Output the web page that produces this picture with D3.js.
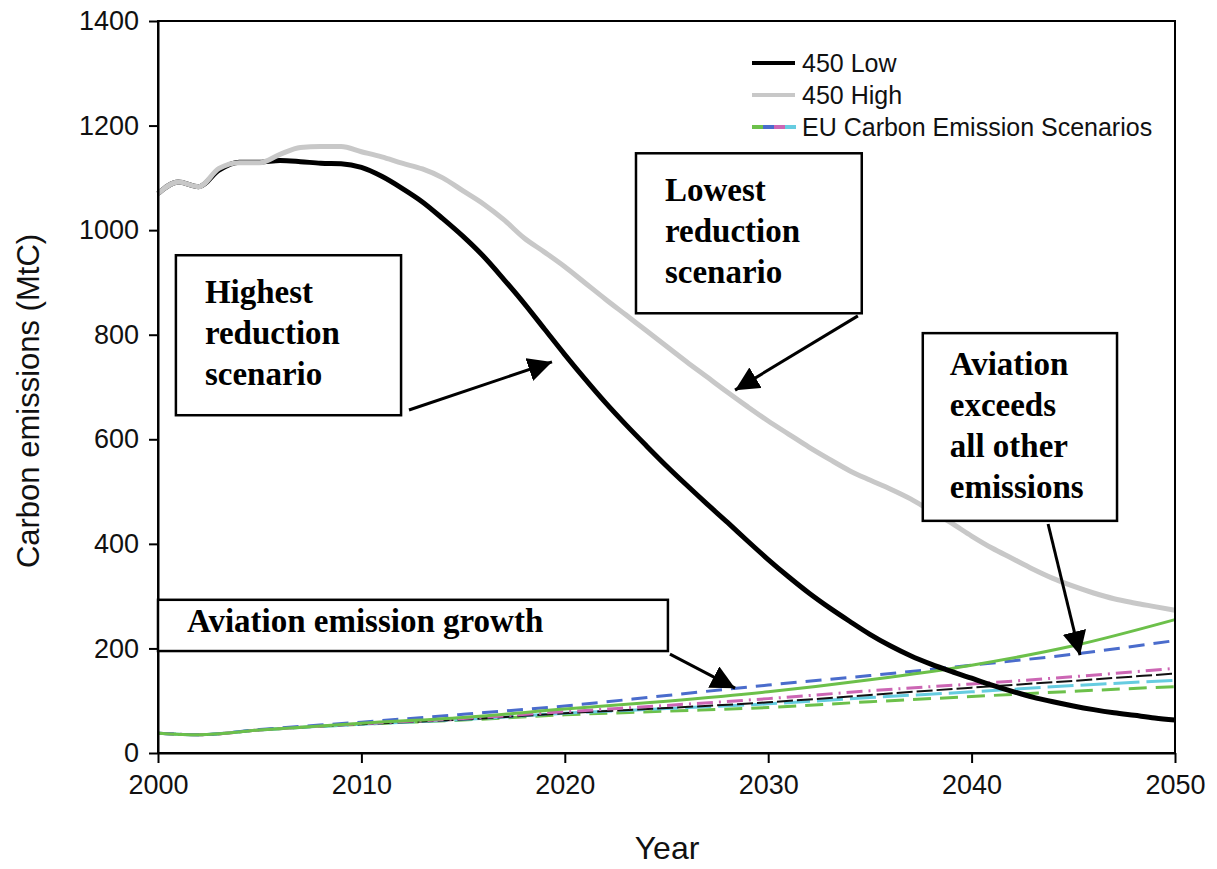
<!DOCTYPE html>
<html>
<head>
<meta charset="utf-8">
<script src="https://cdn.jsdelivr.net/npm/d3@7"></script>
<style>
  html, body { margin: 0; padding: 0; background: #fff; }
  svg { display: block; }
</style>
</head>
<body>
<svg id="chart" width="1217" height="869"></svg>
<script>
// Annual years for the two 450 ppm stabilisation pathways
const years = d3.range(2000, 2051);

// 450 Low: highest reduction pathway (MtC)
const low450 = [1070, 1092, 1083, 1115, 1130, 1130, 1133, 1131, 1128, 1127,
  1120, 1103, 1080, 1054, 1022, 988, 950, 906, 860, 811,
  762, 715, 670, 628, 588, 549, 512, 476, 441, 405,
  370, 337, 306, 278, 252, 227, 205, 186, 170, 156,
  143, 130, 118, 107, 98, 90, 83, 77, 72, 67, 63];

// 450 High: lowest reduction pathway (MtC)
const high450 = [1070, 1092, 1083, 1118, 1129, 1129, 1145, 1158, 1160, 1160,
  1150, 1140, 1128, 1117, 1100, 1075, 1050, 1020, 985, 958,
  930, 899, 868, 838, 808, 778, 748, 719, 690, 662,
  635, 610, 585, 562, 540, 522, 505, 486, 463, 440,
  415, 392, 372, 352, 334, 319, 306, 295, 287, 280, 273];

// Aviation emission scenarios (MtC)
const scenarioYears = [2000, 2002, 2005, 2010, 2015, 2020, 2025, 2030, 2035, 2040, 2045, 2050];
const aviationA = [38, 35, 44, 57, 68, 84, 99, 117, 140, 168, 205, 255];
const aviationB = [38, 35, 45, 59, 74, 90, 110, 130, 148, 168, 189, 215];
const aviationC = [38, 35, 44, 56, 66, 79, 91, 104, 119, 132, 146, 162];
const aviationD = [38, 35, 44, 55, 64, 76, 86, 97, 111, 125, 138, 152];
const aviationE = [38, 35, 44, 55, 64, 76, 85, 94, 106, 117, 129, 139];
const aviationF = [38, 35, 44, 55, 63, 73, 80, 87, 98, 108, 118, 127];

// Axis ticks
const xTicks = [2000, 2010, 2020, 2030, 2040, 2050];
const yTicks = [0, 200, 400, 600, 800, 1000, 1200, 1400];

// Legend entries
const legendLabels = ["450 Low", "450 High", "EU Carbon Emission Scenarios"];

// Callout texts
const calloutHighest = ["Highest", "reduction", "scenario"];
const calloutLowest = ["Lowest", "reduction", "scenario"];
const calloutExceeds = ["Aviation", "exceeds", "all other", "emissions"];
const calloutGrowth = ["Aviation emission growth"];

const svg = d3.select("#chart");
const margin = { left: 158, top: 21, right: 1217 - 1175, bottom: 869 - 753 };
const W = 1217, H = 869;

const x = d3.scaleLinear().domain([2000, 2050]).range([margin.left, W - margin.right]);
const y = d3.scaleLinear().domain([0, 1400]).range([H - margin.bottom, margin.top]);

const sansFont = "'Liberation Sans', Arial, sans-serif";
const serifFont = "'Liberation Serif', 'Times New Roman', serif";

// arrowhead marker
svg.append("defs").append("marker")
  .attr("id", "head")
  .attr("viewBox", "0 0 10 10")
  .attr("refX", 10).attr("refY", 5)
  .attr("markerWidth", 8).attr("markerHeight", 8)
  .attr("markerUnits", "strokeWidth")
  .attr("orient", "auto")
  .append("path").attr("d", "M0,0 L10,5 L0,10 Z").attr("fill", "#000");

// Aviation scenario lines
const scenarioStyles = [
  { data: aviationF, color: "#6cc04a", width: 3, dash: "18,9" },
  { data: aviationE, color: "#66cce0", width: 3, dash: "26,7" },
  { data: aviationD, color: "#111", width: 2, dash: "16,4" },
  { data: aviationC, color: "#cc66b4", width: 3, dash: "16,6,2,6" },
  { data: aviationB, color: "#4a6ccc", width: 3, dash: "16,9" },
  { data: aviationA, color: "#6cc04a", width: 3, dash: null }
];

const scenLine = d3.line()
  .x((d, i) => x(scenarioYears[i]))
  .y(d => y(d))
  .curve(d3.curveMonotoneX);

scenarioStyles.forEach(s => {
  svg.append("path")
    .attr("d", scenLine(s.data))
    .attr("fill", "none")
    .attr("stroke", s.color)
    .attr("stroke-width", s.width)
    .attr("stroke-dasharray", s.dash);
});

// 450 pathways
const pathLine = d3.line()
  .x((d, i) => x(years[i]))
  .y(d => y(d))
  .curve(d3.curveMonotoneX);

svg.append("path")
  .attr("d", pathLine(low450))
  .attr("fill", "none").attr("stroke", "#000").attr("stroke-width", 5);

svg.append("path")
  .attr("d", pathLine(high450))
  .attr("fill", "none").attr("stroke", "#c8c8c8").attr("stroke-width", 5);

// Frame
svg.append("rect")
  .attr("x", x(2000)).attr("y", y(1400))
  .attr("width", x(2050) - x(2000)).attr("height", y(0) - y(1400))
  .attr("fill", "none").attr("stroke", "#000").attr("stroke-width", 2);

// Axes
const xAxis = svg.append("g")
  .attr("transform", `translate(0,${y(0)})`)
  .call(d3.axisBottom(x).tickValues(xTicks).tickFormat(d3.format("d")).tickSize(10).tickSizeOuter(0).tickPadding(12));
const yAxis = svg.append("g")
  .attr("transform", `translate(${x(2000)},0)`)
  .call(d3.axisLeft(y).tickValues(yTicks).tickFormat(d3.format("d")).tickSize(9).tickSizeOuter(0).tickPadding(10));

[xAxis, yAxis].forEach(g => {
  g.select(".domain").attr("stroke", "#000").attr("stroke-width", 2);
  g.selectAll(".tick line").attr("stroke", "#000").attr("stroke-width", 2);
  g.selectAll(".tick text").attr("font-family", sansFont).attr("font-size", 27).attr("fill", "#111");
});

// Axis titles
svg.append("text")
  .attr("transform", `translate(39,${(y(0) + y(1400)) / 2 + 14}) rotate(-90)`)
  .attr("text-anchor", "middle")
  .attr("font-family", sansFont).attr("font-size", 31).attr("fill", "#111")
  .text("Carbon emissions (MtC)");

svg.append("text")
  .attr("x", 667).attr("y", 859)
  .attr("text-anchor", "middle")
  .attr("font-family", sansFont).attr("font-size", 32).attr("fill", "#111")
  .text("Year");

// Legend
const legend = svg.append("g").attr("transform", "translate(752,63)");
const rowGap = 32;
legendLabels.forEach((label, i) => {
  const g = legend.append("g").attr("transform", `translate(0,${i * rowGap})`);
  if (i === 0) {
    g.append("line").attr("x1", 0).attr("x2", 43).attr("stroke", "#000").attr("stroke-width", 4);
  } else if (i === 1) {
    g.append("line").attr("x1", 0).attr("x2", 43).attr("stroke", "#c8c8c8").attr("stroke-width", 4);
  } else {
    ["#6cc04a", "#4a6ccc", "#cc66b4", "#66cce0"].forEach((c, k) => {
      g.append("line").attr("x1", k * 11).attr("x2", k * 11 + 11)
        .attr("stroke", c).attr("stroke-width", 4);
    });
  }
  g.append("text").attr("x", 50).attr("y", 0).attr("dy", "0.36em")
    .attr("font-family", sansFont).attr("font-size", 25).attr("fill", "#111")
    .text(label);
});

// Callouts: box corners and arrow ends given in data units
function callout(lines, box, pad, firstBase, lineH, arrowFrom, arrowTo) {
  const g = svg.append("g");
  const x0 = x(box[0]), x1 = x(box[1]), y0 = y(box[2]), y1 = y(box[3]);
  g.append("rect")
    .attr("x", x0).attr("y", y0).attr("width", x1 - x0).attr("height", y1 - y0)
    .attr("fill", "#fff").attr("stroke", "#000").attr("stroke-width", 2.5);
  lines.forEach((t, i) => {
    g.append("text")
      .attr("x", x0 + pad).attr("y", y0 + firstBase + i * lineH)
      .attr("font-family", serifFont).attr("font-weight", "bold")
      .attr("font-size", 33).attr("fill", "#000")
      .text(t);
  });
  g.append("line")
    .attr("x1", x(arrowFrom[0])).attr("y1", y(arrowFrom[1]))
    .attr("x2", x(arrowTo[0])).attr("y2", y(arrowTo[1]))
    .attr("stroke", "#000").attr("stroke-width", 3)
    .attr("marker-end", "url(#head)");
}

callout(calloutHighest, [2000.88, 2011.95, 952, 646], 29, 48, 41, [2012.34, 656], [2019.37, 748]);
callout(calloutLowest, [2023.5, 2034.6, 1147, 841], 29, 48, 41, [2034.41, 836], [2028.37, 694]);
callout(calloutExceeds, [2037.6, 2047.15, 803, 444], 27, 42, 41, [2043.76, 438], [2045.33, 187]);
callout(calloutGrowth, [2000, 2025.07, 293, 195], 29, 32, 41, [2025.17, 189], [2028.37, 124]);
</script>
</body>
</html>
